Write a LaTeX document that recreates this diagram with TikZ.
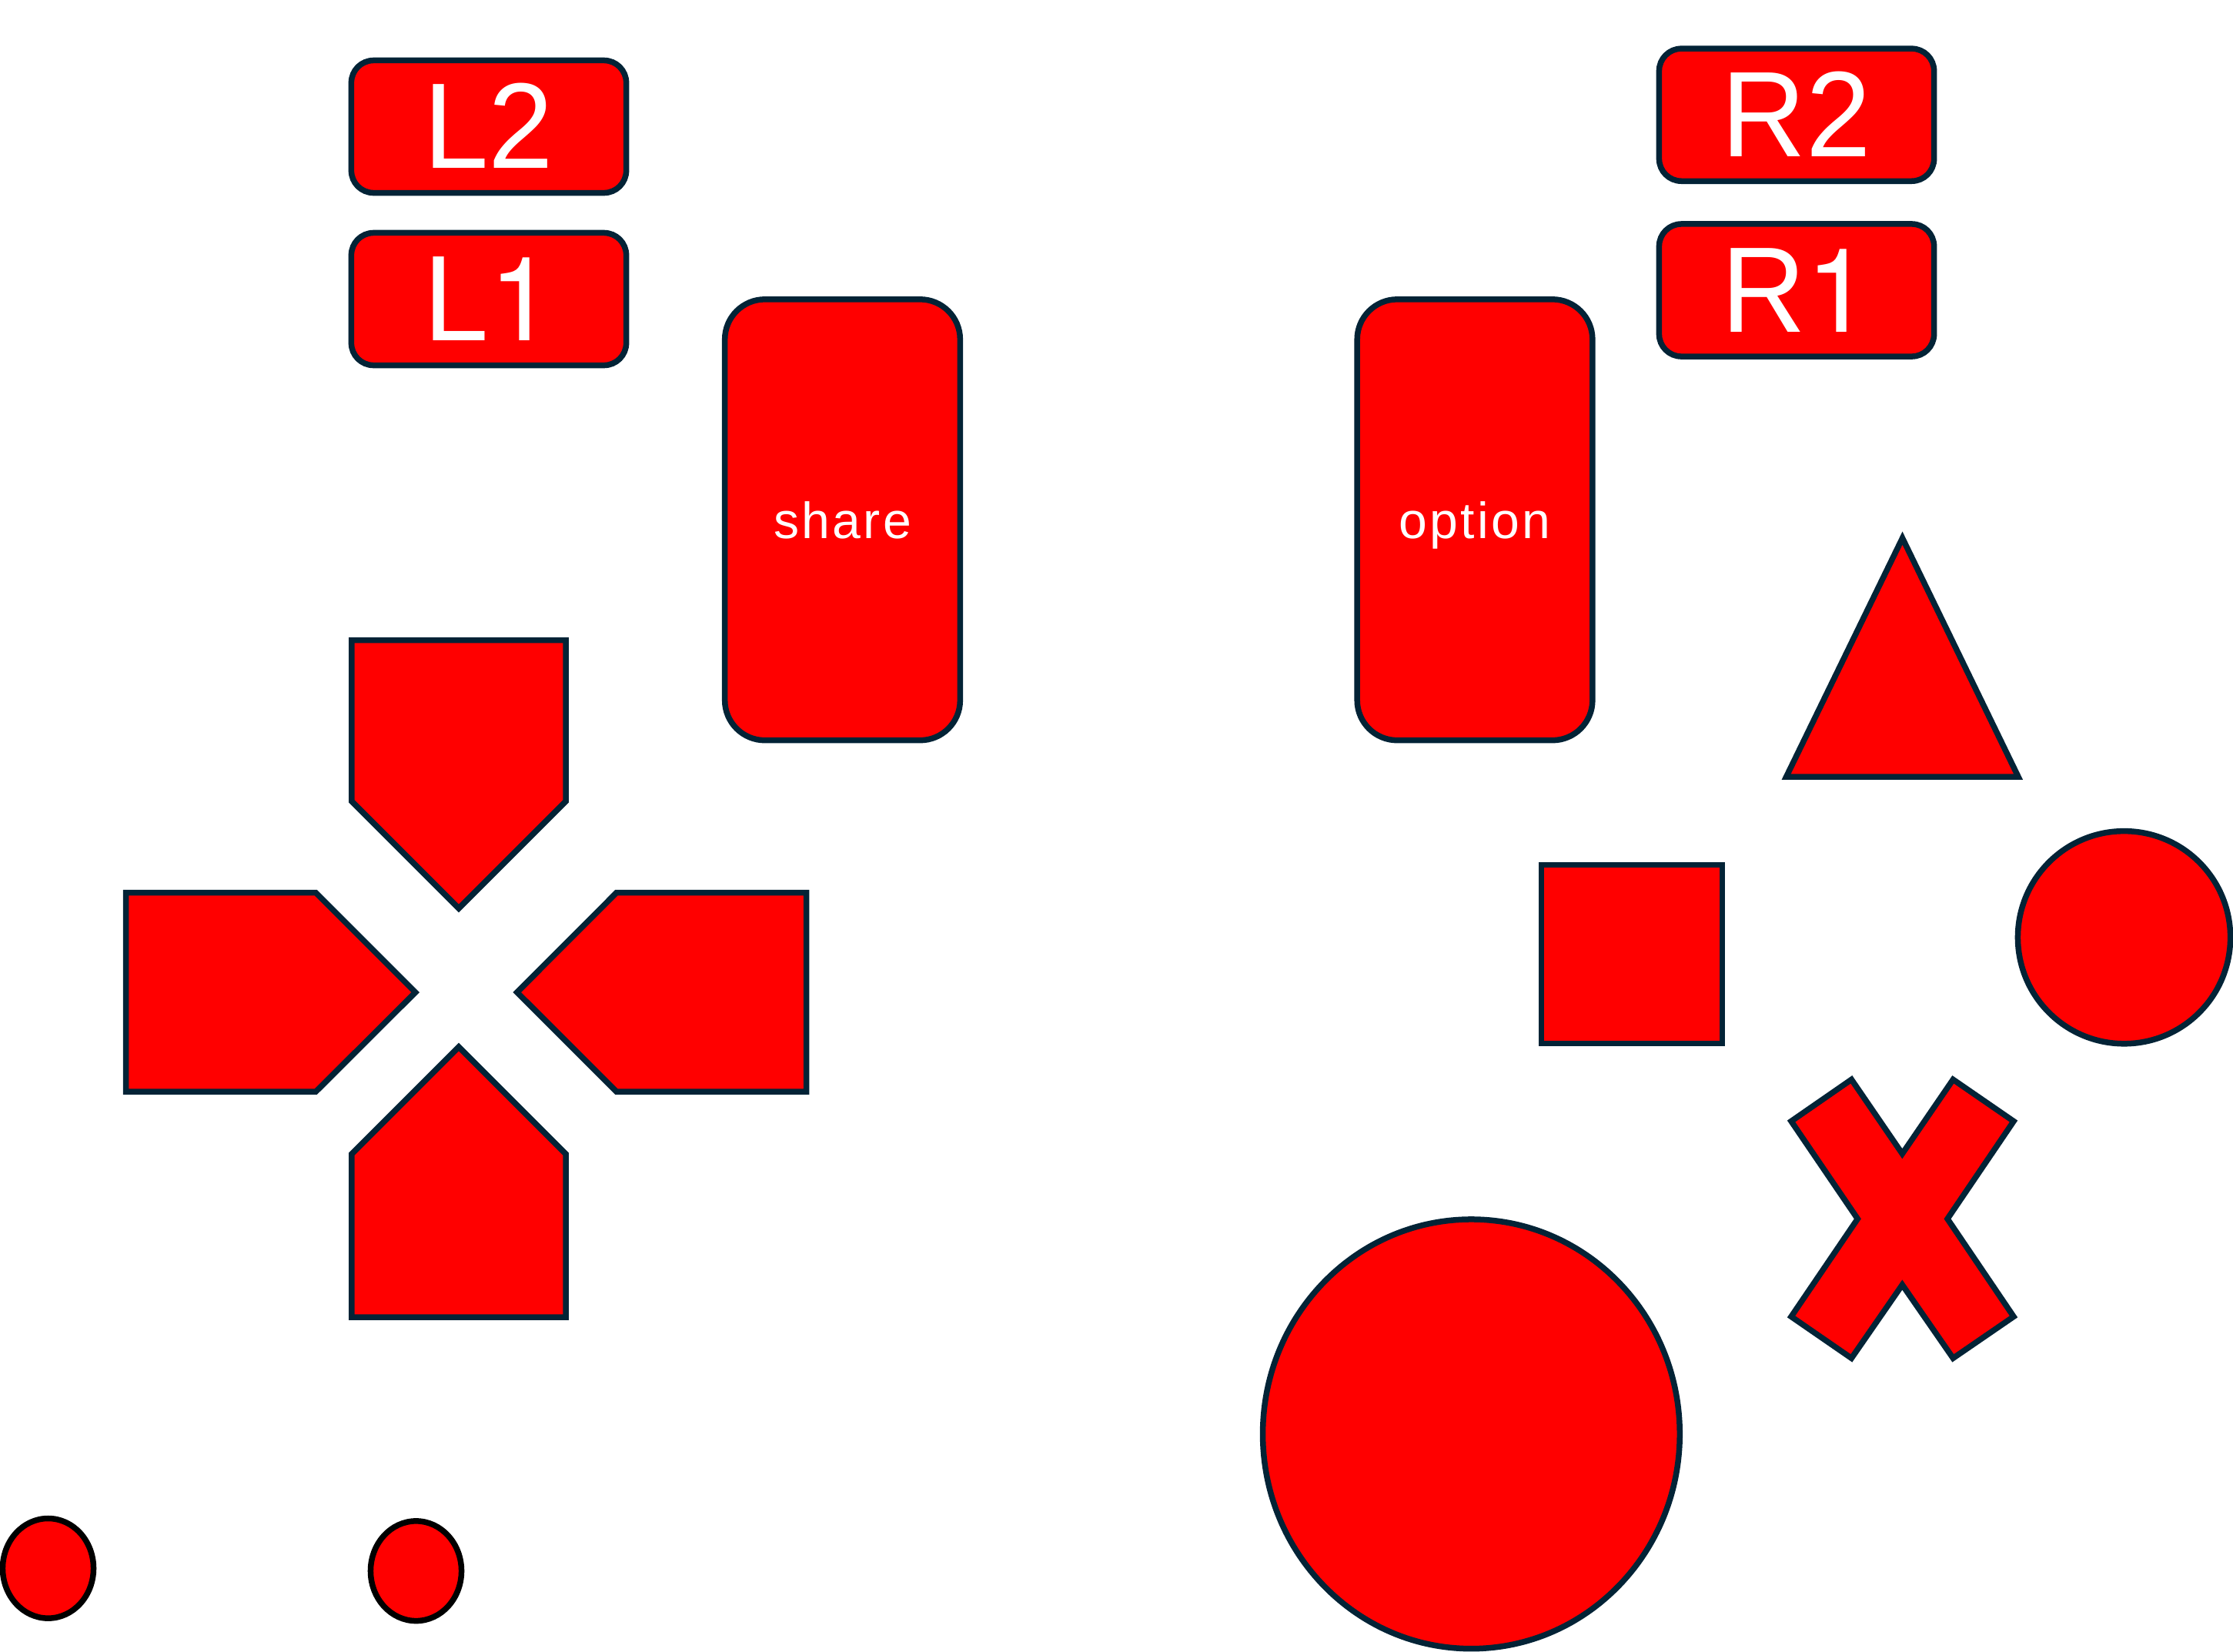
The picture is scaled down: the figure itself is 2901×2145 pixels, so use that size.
\documentclass[tikz,border=0pt]{standalone}
\usepackage{fontspec}
\setmainfont[FakeStretch=0.96]{Liberation Sans}
\newfontfamily\onefont[Scale=0.96]{TeX Gyre Heros}
\newfontfamily\smallbtnfont[LetterSpace=5]{Liberation Sans}
\usetikzlibrary{shapes.geometric}
\definecolor{edgeblue}{HTML}{032336}

\begin{document}
\begin{tikzpicture}[x=0.01cm,y=-0.01cm,line width=0.075cm,
  padpiece/.style={draw=edgeblue,fill=red},
  shoulderbtn/.style={padpiece,rectangle,rounded corners=0.29cm,inner sep=0pt,outer sep=0pt,minimum width=3.57cm,minimum height=1.72cm,text=white,text height=1.087cm,text depth=0pt,font=\fontsize{45}{50}\selectfont},
  menubtn/.style={padpiece,rectangle,rounded corners=0.52cm,inner sep=0pt,outer sep=0pt,minimum width=3.055cm,minimum height=5.725cm,text=white,text height=0.475cm,text depth=0pt,font=\fontsize{18.8}{22}\smallbtnfont},
  roundbtn/.style={padpiece,ellipse,inner sep=0pt,outer sep=0pt}]
\useasboundingbox (0,0) rectangle (2901,2145);
% shoulder buttons
\node[shoulderbtn] (ltwo) at (635,164.5) {L2};
\node[shoulderbtn] (lone) at (635,388.5) {L{\onefont 1}};
\node[shoulderbtn] (rtwo) at (2334,149.2) {R2};
\node[shoulderbtn] (rone) at (2334,377) {R{\onefont 1}};
% share and option
\node[menubtn] (share) at (1094.5,675.25) {share};
\node[menubtn] (option) at (1916,675.25) {option};
% direction pad
\draw[padpiece] (456.8,831.5) -- (735.2,831.5) -- (735.2,1040.8) -- (596,1180) -- (456.8,1040.8) -- cycle;
\draw[padpiece] (456.8,1711) -- (735.2,1711) -- (735.2,1499.2) -- (596,1360) -- (456.8,1499.2) -- cycle;
\draw[padpiece] (163.5,1159.5) -- (410.2,1159.5) -- (539.7,1289) -- (410.2,1418.2) -- (163.5,1418.2) -- cycle;
\draw[padpiece] (1047.5,1159.5) -- (801,1159.5) -- (671.7,1289) -- (801,1418.2) -- (1047.5,1418.2) -- cycle;
% face buttons
\draw[padpiece] (2471.5,699) -- (2622,1009) -- (2320.6,1009) -- cycle;
\draw[padpiece] (2002.3,1123.7) rectangle (2237.3,1355.5);
\node[roundbtn,minimum width=2.76cm,minimum height=2.76cm] (circlebtn) at (2759.5,1217.7) {};
\draw[padpiece] (2405.3,1402.3) -- (2471.3,1498.7) -- (2537.3,1402.3) -- (2616,1456.5) -- (2530,1583.3) -- (2616,1710.3) -- (2537.3,1764.3) -- (2471.3,1669) -- (2405.3,1764.3) -- (2327,1710.3) -- (2413.3,1583.3) -- (2327,1456.5) -- cycle;
% stick and small dots
\node[roundbtn,minimum width=5.414cm,minimum height=5.574cm] (stick) at (1911.4,1862.8) {};
\node[roundbtn,draw=black,minimum width=1.18cm,minimum height=1.296cm] (dotleft) at (62.5,2037.3) {};
\node[roundbtn,draw=black,minimum width=1.18cm,minimum height=1.296cm] (dotright) at (540.5,2040.7) {};
\end{tikzpicture}
\end{document}
